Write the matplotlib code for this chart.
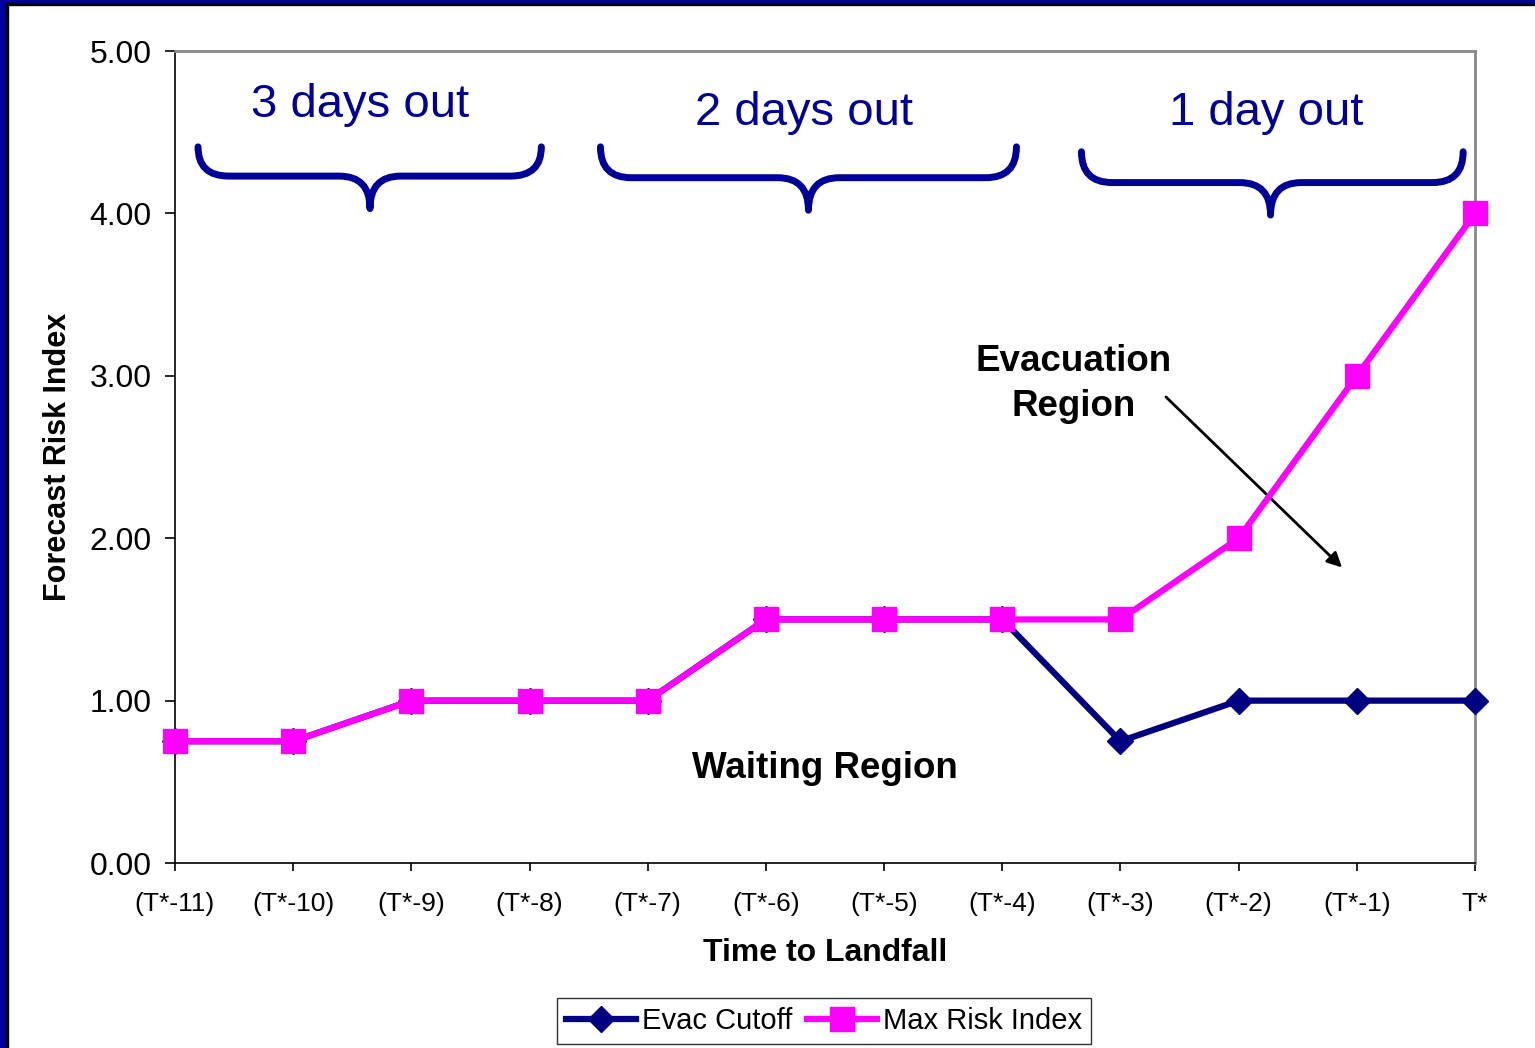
import matplotlib
matplotlib.use('Agg')
import matplotlib.pyplot as plt
from matplotlib.path import Path
from matplotlib.patches import PathPatch, Rectangle

plt.rcParams['font.family'] = ['Liberation Sans', 'DejaVu Sans']

# data
labels = ['(T*-11)', '(T*-10)', '(T*-9)', '(T*-8)', '(T*-7)', '(T*-6)',
          '(T*-5)', '(T*-4)', '(T*-3)', '(T*-2)', '(T*-1)', 'T*']
evac_cutoff = [0.75, 0.75, 1.0, 1.0, 1.0, 1.5, 1.5, 1.5, 0.75, 1.0, 1.0, 1.0]
max_risk = [0.75, 0.75, 1.0, 1.0, 1.0, 1.5, 1.5, 1.5, 1.5, 2.0, 3.0, 4.0]
periods = ['3 days out', '2 days out', '1 day out']

navy = '#000080'
pink = '#FF00FF'
brace_blue = '#000099'

fig = plt.figure(figsize=(15.35, 10.48), dpi=100)
ax = fig.add_axes([0.114, 0.1765, 0.8469, 0.7748])

x = list(range(len(labels)))
ax.plot(x, evac_cutoff, color=navy, lw=4.5, marker='D', ms=13.5,
        label='Evac Cutoff', clip_on=False, zorder=3)
ax.plot(x, max_risk, color=pink, lw=4.5, marker='s', ms=17,
        label='Max Risk Index', clip_on=False, zorder=4)

ax.set_xlim(0, 11)
ax.set_ylim(0, 5)
ax.set_xticks(x)
ax.set_xticklabels(labels, fontsize=19)
ax.set_yticks([0, 1, 2, 3, 4, 5])
ax.set_yticklabels(['%.2f' % v for v in [0, 1, 2, 3, 4, 5]], fontsize=23)
ax.tick_params(axis='y', length=7, width=1.2, pad=10)
ax.tick_params(axis='x', length=6, width=1.2, pad=15)

for s in ['top', 'right']:
    ax.spines[s].set_color('#888888')
    ax.spines[s].set_linewidth(2)
for s in ['left', 'bottom']:
    ax.spines[s].set_color('black')
    ax.spines[s].set_linewidth(1.2)

ax.set_xlabel('Time to Landfall', fontsize=23, fontweight='bold', labelpad=16)
ax.set_ylabel('Forecast Risk Index', fontsize=22, fontweight='bold', labelpad=12)


# curly braces over the time periods
def brace(x0, x1, xc, y_end, y_h, y_tip, r=0.26):
    verts = [(x0, y_end), (x0, y_h), (x0 + r, y_h),
             (xc - r, y_h),
             (xc, y_h), (xc, y_tip),
             (xc, y_h), (xc + r, y_h),
             (x1 - r, y_h),
             (x1, y_h), (x1, y_end)]
    codes = [Path.MOVETO, Path.CURVE3, Path.CURVE3,
             Path.LINETO,
             Path.CURVE3, Path.CURVE3,
             Path.CURVE3, Path.CURVE3,
             Path.LINETO,
             Path.CURVE3, Path.CURVE3]
    ax.add_patch(PathPatch(Path(verts, codes), fill=False, ec=brace_blue,
                           lw=5, capstyle='round', joinstyle='round'))


brace(0.195, 3.10, 1.65, 4.41, 4.23, 4.03)
brace(3.60, 7.12, 5.36, 4.41, 4.22, 4.02)
brace(7.67, 10.90, 9.27, 4.38, 4.19, 3.99)

ax.text(1.57, 4.67, periods[0], fontsize=34, color=brace_blue, ha='center', va='center')
ax.text(5.32, 4.62, periods[1], fontsize=34, color=brace_blue, ha='center', va='center')
ax.text(9.23, 4.62, periods[2], fontsize=34, color=brace_blue, ha='center', va='center')

ax.text(5.50, 0.58, 'Waiting Region', fontsize=26.5, fontweight='bold',
        ha='center', va='center')
ax.text(7.60, 2.95, 'Evacuation\nRegion', fontsize=26.5, fontweight='bold',
        ha='center', va='center', linespacing=1.4)
ax.annotate('', xy=(9.875, 1.82), xytext=(8.385, 2.87),
            arrowprops=dict(arrowstyle='-|>', color='black', lw=2,
                            mutation_scale=22, shrinkA=0, shrinkB=0))

fig.legend(loc='center', bbox_to_anchor=(824 / 1535, 1 - 1021 / 1048), ncol=2,
           fontsize=21, frameon=True, fancybox=False, edgecolor='black',
           handlelength=2.4, handletextpad=0.2, columnspacing=0.5,
           borderpad=0.3, borderaxespad=0)

# slide frame on the left and top
fig.patches.append(Rectangle((0, 0), 6 / 1535, 1, transform=fig.transFigure,
                             color='#0000A0', zorder=10))
fig.patches.append(Rectangle((6 / 1535, 0), 2 / 1535, 1 - 3 / 1048,
                             transform=fig.transFigure, color='black', zorder=10))
fig.patches.append(Rectangle((0, 1 - 3 / 1048), 1, 3 / 1048, transform=fig.transFigure,
                             color='#0000A0', zorder=10))
fig.patches.append(Rectangle((6 / 1535, 1 - 5 / 1048), 1, 2 / 1048,
                             transform=fig.transFigure, color='black', zorder=10))

fig.savefig('out.png', dpi=100)
